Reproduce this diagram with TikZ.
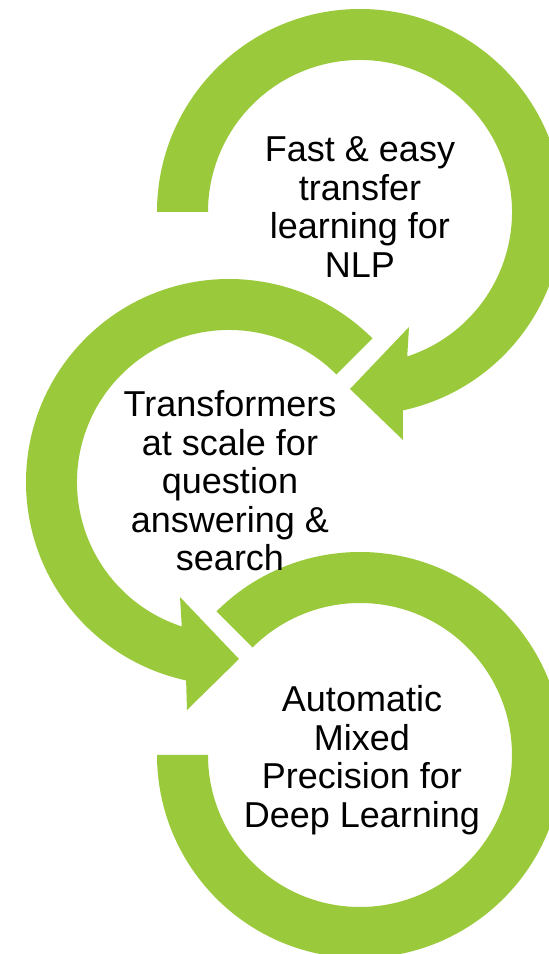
\documentclass[tikz,border=0pt]{standalone}
\usepackage{fontspec}
\setmainfont{Liberation Sans}
\definecolor{ringGreen}{RGB}{154,202,60}

\begin{document}
\begin{tikzpicture}[x=1pt,y=1pt]

\def\ringIn{152pt}
\def\ringOut{203pt}

\tikzstyle{ring}=[fill=ringGreen,draw=none]
\tikzstyle{ringText}=[align=center,inner sep=0pt,font=\fontsize{36}{38.5}\selectfont]

\useasboundingbox (0,0) rectangle (549,954);
\clip (0,0) rectangle (549,954);

%top ring, clockwise with head at the bottom
\fill[ring,shift={(360,742)}] (180:\ringOut) arc[start angle=180,end angle=-77.8,radius=\ringOut]
  -- (43,-228) -- (-10,-177) -- (49,-115)
  -- (-71.9:\ringIn) arc[start angle=-71.9,end angle=180,radius=\ringIn] -- cycle;

%middle ring, counter clockwise
\fill[ring,shift={(229,472)}] (45:\ringOut) arc[start angle=45,end angle=257.8,radius=\ringOut]
  -- (-42,-228) -- (10,-177) -- (-49,-115)
  -- (251.9:\ringIn) arc[start angle=251.9,end angle=45,radius=\ringIn] -- cycle;

%bottom ring, no head
\fill[ring,shift={(360,199)}] (135:\ringOut) arc[start angle=135,end angle=-180,radius=\ringOut]
  -- (180:\ringIn) arc[start angle=-180,end angle=135,radius=\ringIn] -- cycle;

%texts
\node[ringText] (fastText) at (360,747) {Fast \& easy\\transfer\\learning for\\NLP};
\node[ringText] (transText) at (230,473) {Transformers\\at scale for\\question\\answering \&\\search};
\node[ringText] (ampText) at (362,194) {Automatic\\Mixed\\Precision for\\Deep Learning};

\end{tikzpicture}
\end{document}
